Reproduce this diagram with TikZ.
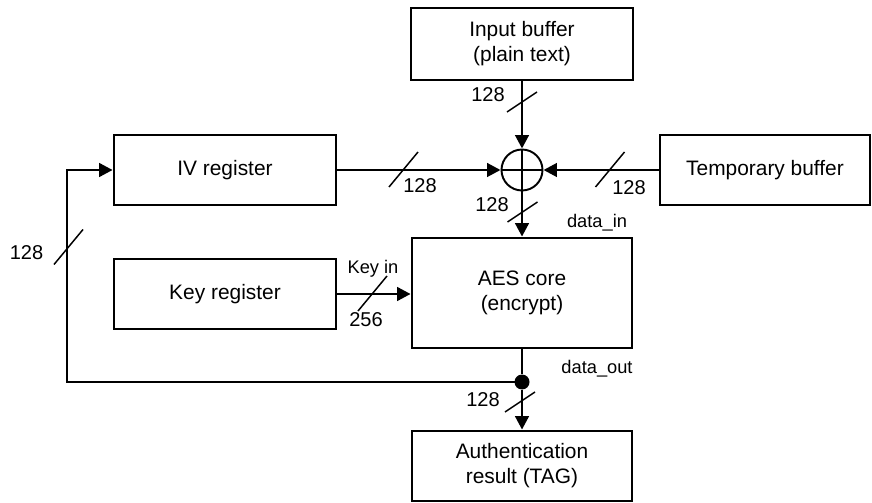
\documentclass[tikz,border=0pt]{standalone}
\usepackage{fontspec}
\setmainfont{Liberation Sans}
\usepackage{tikz}
\usetikzlibrary{arrows.meta, positioning, calc}

\tikzset{
  block/.style={draw, line width=1.6pt, minimum width=4.44cm, minimum height=1.4cm,
    align=center, inner sep=0pt, font=\fontsize{11.9}{14.2}\selectfont},
  wire/.style={line width=1.6pt},
  flow/.style={wire, -{Triangle[length=0.27cm, width=0.27cm]}},
  buslabel/.style={inner sep=0pt, font=\fontsize{11.4}{13}\selectfont},
  siglabel/.style={inner sep=0pt, font=\fontsize{10.4}{12}\selectfont},
  hbus/.pic={\draw[line width=0.85pt] (-14.5,17.5) -- (14.5,-17.5);},
  vbus/.pic={\draw[line width=0.85pt] (-15,10) -- (15,-10);},
}

\begin{document}
\begin{tikzpicture}[x=0.02cm, y=-0.02cm]
  \useasboundingbox (0,0) rectangle (872,503);

  % blocks
  \node[block, minimum height=1.44cm] (inbuf) at (522,44) {Input buffer\\(plain text)};
  \node[block] (ivreg) at (225,170) {IV register};
  \node[block, minimum width=4.2cm] (tmpbuf) at (765,170) {Temporary buffer};
  \node[block] (keyreg) at (225,294) {Key register};
  \node[block, minimum width=4.4cm, minimum height=2.2cm] (aes) at (522,293) {AES core\\(encrypt)};
  \node[block, minimum width=4.4cm] (tag) at (522,466) {Authentication\\result (TAG)};

  % xor and split point
  \node[circle, draw, line width=1.1pt, minimum size=0.82cm, inner sep=0pt] (xor) at (522,170) {};
  \draw[line width=1.1pt] (xor.north) -- (xor.south) (xor.west) -- (xor.east);
  \node[circle, fill, inner sep=0pt, minimum size=0.3cm] (split) at (522,382) {};
  \coordinate (corner) at (67,382);

  % data paths
  \draw[flow] (inbuf) -- (xor);
  \draw[flow] (ivreg) -- (xor);
  \draw[flow] (tmpbuf) -- (xor);
  \draw[flow] (xor) -- (aes);
  \draw[flow] (keyreg.east) -- (keyreg.east -| aes.west);
  \draw[wire] (aes) -- (split);
  \draw[flow] (split) -- (tag);
  \draw[flow] (split.center) -- (corner) |- (ivreg.west);

  % bus widths
  \pic at (522,102) {vbus};
  \pic at (403.5,169.5) {hbus};
  \pic at (610,169.5) {hbus};
  \pic at (522.5,212) {vbus};
  \pic at (372.5,293.5) {hbus};
  \pic at (68.5,247) {hbus};
  \pic at (520,402) {vbus};

  \node[buslabel] (winbuf) at (488,94.5) {128};
  \node[buslabel] (wiv) at (420,186) {128};
  \node[buslabel] (wtmp) at (629,188) {128};
  \node[buslabel] (wxor) at (492,204.5) {128};
  \node[buslabel] (wkey) at (366,320) {256};
  \node[buslabel] (wfb) at (26.5,252.5) {128};
  \node[buslabel] (wtag) at (483,400) {128};

  % signal names
  \node[siglabel] (din) at (597,223) {data\_in};
  \node[siglabel] (kin) at (373,269) {Key in};
  \node[siglabel] (dout) at (597,369) {data\_out};
\end{tikzpicture}
\end{document}
